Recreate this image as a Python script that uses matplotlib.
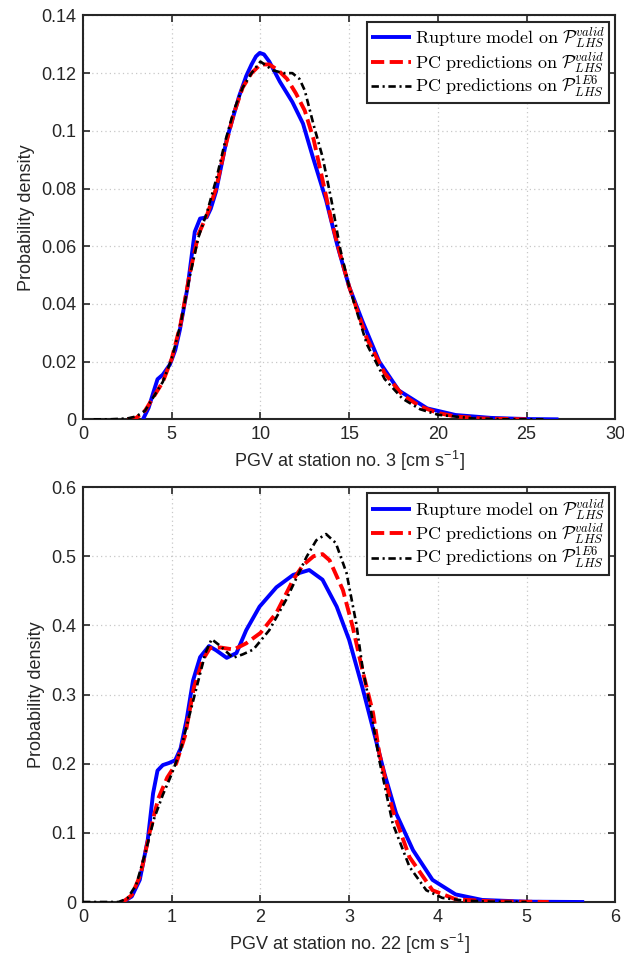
import matplotlib
matplotlib.use("Agg")
import matplotlib.pyplot as plt
import numpy as np

plt.rcParams['font.family'] = ['Liberation Sans', 'DejaVu Sans']
plt.rcParams['mathtext.fontset'] = 'cm'

# ---------------- Top panel (station no. 3) ----------------
top_blue_x = [3.38, 3.7, 4.0, 4.2, 4.5, 4.9, 5.2, 5.46, 5.9, 6.3, 6.6, 6.97, 7.2, 7.5, 8.1, 8.8, 9.2, 9.5, 9.75,
              9.96, 10.2, 10.5, 11.1, 11.8, 12.4, 12.95, 13.7, 14.35, 15.0, 15.75, 16.7, 17.8, 19.4, 21.0, 23.0,
              25.0, 26.8]
top_blue_y = [0, 0.004, 0.010, 0.0139, 0.0155, 0.019, 0.024, 0.031, 0.046, 0.065, 0.0696, 0.0700, 0.073, 0.079,
              0.097, 0.112, 0.119, 0.123, 0.1258, 0.127, 0.1265, 0.124, 0.117, 0.110, 0.1025, 0.091, 0.076, 0.060,
              0.046, 0.034, 0.020, 0.010, 0.0038, 0.0015, 0.0005, 0.0001, 0.0]

top_red_x = [2.5, 3.0, 3.5, 4.0, 4.5, 5.0, 5.5, 6.0, 6.5, 7.0, 7.5, 8.0, 8.5, 9.0, 9.5, 10.0, 10.5, 11.0, 11.5,
             12.0, 12.5, 13.0, 13.5, 14.0, 14.5, 15.0, 16.0, 17.0, 18.0, 19.0, 20.0, 21.0, 22.5, 25.0]
top_red_y = [0, 0.0005, 0.003, 0.008, 0.013, 0.021, 0.033, 0.050, 0.064, 0.071, 0.080, 0.094, 0.106, 0.115,
             0.120, 0.123, 0.123, 0.121, 0.118, 0.113, 0.107, 0.097, 0.083, 0.069, 0.057, 0.046, 0.028, 0.016,
             0.0085, 0.0045, 0.0022, 0.001, 0.0003, 0.0]

top_black_x = [0.6, 1.5, 2.5, 3.0, 3.5, 4.0, 4.5, 5.0, 5.5, 6.0, 6.5, 7.0, 7.5, 8.0, 8.5, 9.0, 9.5, 10.0, 10.7,
               11.3, 11.8, 12.2, 12.5, 13.0, 13.5, 14.0, 14.5, 15.0, 16.0, 17.0, 18.0, 19.0, 20.0, 22.0, 24.0, 26.0]
top_black_y = [0, 0, 0.0003, 0.001, 0.003, 0.008, 0.013, 0.021, 0.033, 0.049, 0.063, 0.072, 0.083, 0.096, 0.107,
               0.115, 0.120, 0.124, 0.121, 0.120, 0.120, 0.118, 0.114, 0.102, 0.091, 0.076, 0.059, 0.046, 0.026,
               0.014, 0.0072, 0.0035, 0.0016, 0.0003, 0.0, 0.0]

top_xticks = [0, 5, 10, 15, 20, 25, 30]
top_yticks = [0, 0.02, 0.04, 0.06, 0.08, 0.1, 0.12, 0.14]
top_ytick_labels = ['0', '0.02', '0.04', '0.06', '0.08', '0.1', '0.12', '0.14']

# ---------------- Bottom panel (station no. 22) ----------------
bot_blue_x = [0.45, 0.55, 0.64, 0.73, 0.79, 0.84, 0.9, 0.97, 1.04, 1.1, 1.17, 1.24, 1.32, 1.42, 1.5, 1.62, 1.73,
              1.84, 1.99, 2.18, 2.37, 2.55, 2.7, 2.86, 3.0, 3.15, 3.3, 3.4, 3.53, 3.72, 3.94, 4.2, 4.5, 5.0, 5.65]
bot_blue_y = [0, 0.008, 0.032, 0.09, 0.157, 0.19, 0.198, 0.201, 0.205, 0.222, 0.265, 0.32, 0.354, 0.370, 0.364,
              0.353, 0.36, 0.393, 0.427, 0.455, 0.473, 0.48, 0.466, 0.427, 0.379, 0.31, 0.235, 0.185, 0.128,
              0.075, 0.032, 0.011, 0.003, 0.0005, 0]

bot_red_x = [0.45, 0.55, 0.65, 0.75, 0.85, 0.95, 1.05, 1.15, 1.25, 1.35, 1.43, 1.55, 1.7, 1.84, 2.0, 2.18, 2.37,
             2.48, 2.6, 2.7, 2.78, 2.93, 3.04, 3.15, 3.27, 3.34, 3.49, 3.68, 3.94, 4.2, 4.6, 5.25]
bot_red_y = [0, 0.01, 0.04, 0.10, 0.15, 0.18, 0.20, 0.24, 0.31, 0.35, 0.367, 0.368, 0.365, 0.374, 0.389, 0.418,
             0.466, 0.487, 0.500, 0.503, 0.494, 0.451, 0.398, 0.335, 0.273, 0.215, 0.133, 0.065, 0.017, 0.004,
             0.001, 0]

bot_black_x = [0.0, 0.4, 0.5, 0.6, 0.7, 0.8, 0.9, 1.0, 1.1, 1.2, 1.3, 1.38, 1.45, 1.55, 1.69, 1.8, 1.92, 2.1,
               2.29, 2.52, 2.63, 2.74, 2.85, 2.97, 3.08, 3.15, 3.25, 3.34, 3.49, 3.68, 3.87, 4.05, 4.3, 4.6, 5.0]
bot_black_y = [0, 0, 0.005, 0.025, 0.07, 0.12, 0.155, 0.185, 0.22, 0.27, 0.32, 0.36, 0.38, 0.37, 0.353, 0.358,
               0.365, 0.393, 0.437, 0.499, 0.523, 0.532, 0.519, 0.476, 0.403, 0.34, 0.273, 0.205, 0.114, 0.051,
               0.017, 0.006, 0.002, 0.0005, 0]

bot_xticks = [0, 1, 2, 3, 4, 5, 6]
bot_yticks = [0, 0.1, 0.2, 0.3, 0.4, 0.5, 0.6]
bot_ytick_labels = ['0', '0.1', '0.2', '0.3', '0.4', '0.5', '0.6']

labels = [r'$\mathrm{Rupture\ model\ on\ }\mathcal{P}^{valid}_{LHS}$',
          r'$\mathrm{PC\ predictions\ on\ }\mathcal{P}^{valid}_{LHS}$',
          r'$\mathrm{PC\ predictions\ on\ }\mathcal{P}^{1E6}_{LHS}$']

fig = plt.figure(figsize=(6.24, 9.64), dpi=100)
ax1 = fig.add_axes([0.133, 0.565, 0.853, 0.419])
ax2 = fig.add_axes([0.133, 0.0643, 0.853, 0.4305])


def draw(ax, bx, by, rx, ry, kx, ky):
    ax.plot(bx, by, color='#0000ff', lw=2.8, solid_capstyle='butt', solid_joinstyle='round',
            label=labels[0], zorder=3)
    ax.plot(rx, ry, color='#ff0000', lw=2.8, dashes=(3.4, 1.4), label=labels[1], zorder=4)
    ax.plot(kx, ky, color='black', lw=1.9, dashes=(2.8, 1.4, 0.8, 1.4), label=labels[2], zorder=5)
    ax.grid(True, linestyle=(0, (1, 2.5)), color='#c8c8c8', lw=0.9)
    ax.set_axisbelow(True)
    for s in ax.spines.values():
        s.set_linewidth(1.5)
        s.set_color('#262626')
    ax.tick_params(direction='in', top=True, right=True, length=5, width=1.2,
                   labelsize=13, colors='#262626', pad=5)
    ax.set_ylabel('Probability density', fontsize=13, color='#262626')
    leg = ax.legend(loc='upper right', fontsize=13, frameon=True, fancybox=False,
                    handlelength=2.2, handletextpad=0.25, borderpad=0.2, labelspacing=0.0,
                    borderaxespad=0.35)
    leg.get_frame().set_edgecolor('#262626')
    leg.get_frame().set_linewidth(1.5)
    leg.get_frame().set_alpha(1)


draw(ax1, top_blue_x, top_blue_y, top_red_x, top_red_y, top_black_x, top_black_y)
ax1.set_xlim(0, 30)
ax1.set_ylim(0, 0.14)
ax1.set_xticks(top_xticks)
ax1.set_yticks(top_yticks)
ax1.set_yticklabels(top_ytick_labels)
ax1.set_xlabel(r'PGV at station no. 3 [cm s$^{\mathregular{-1}}$]', fontsize=13, color='#262626')

draw(ax2, bot_blue_x, bot_blue_y, bot_red_x, bot_red_y, bot_black_x, bot_black_y)
ax2.set_xlim(0, 6)
ax2.set_ylim(0, 0.6)
ax2.set_xticks(bot_xticks)
ax2.set_yticks(bot_yticks)
ax2.set_yticklabels(bot_ytick_labels)
ax2.set_xlabel(r'PGV at station no. 22 [cm s$^{\mathregular{-1}}$]', fontsize=13, color='#262626')

fig.savefig('out.png', dpi=100)
